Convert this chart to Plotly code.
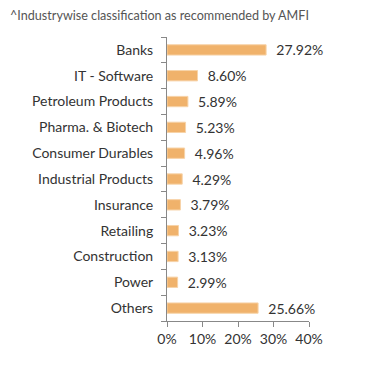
import plotly.graph_objects as go

categories = ["Banks", "IT - Software", "Petroleum Products", "Pharma. & Biotech",
              "Consumer Durables", "Industrial Products", "Insurance", "Retailing",
              "Construction", "Power", "Others"]
values = [27.92, 8.60, 5.89, 5.23, 4.96, 4.29, 3.79, 3.23, 3.13, 2.99, 25.66]
labels = ["27.92%", "8.60%", "5.89%", "5.23%", "4.96%", "4.29%", "3.79%",
          "3.23%", "3.13%", "2.99%", "25.66%"]
x_ticks = [0, 10, 20, 30, 40]
x_ticktext = ["0%", "10%", "20%", "30%", "40%"]
title = "^Industrywise classification as recommended by AMFI"

FONT = "Lato, 'Open Sans', sans-serif"
OFF = 8  # browser default body margin

fig = go.Figure(go.Bar(
    x=values, y=categories, orientation="h",
    marker=dict(color="#F0B26B", line=dict(color="#F7D3A8", width=1)),
    text=["  " + l for l in labels], textposition="outside",
    constraintext="none",
    textfont=dict(family=FONT, size=14, color="#333333"),
    cliponaxis=False, width=0.4,
))

fig.update_layout(
    width=391 - OFF, height=373 - OFF,
    margin=dict(l=167 - OFF, r=82, t=37 - OFF, b=52, autoexpand=False),
    paper_bgcolor="white", plot_bgcolor="white",
    showlegend=False,
    font=dict(family=FONT, size=14, color="#333333"),
    annotations=[dict(text=title, xref="paper", yref="paper", x=-159/142, y=1 + 21/284,
                      xanchor="left", yanchor="middle", showarrow=False,
                      font=dict(family=FONT, size=12.6, color="#555555"))],
)
fig.update_xaxes(
    range=[0, 40], tickvals=x_ticks, ticktext=x_ticktext,
    showgrid=False, zeroline=False, showline=True, linecolor="#888888", linewidth=1,
    ticks="outside", ticklen=5, tickcolor="#888888",
    tickfont=dict(family=FONT, size=14, color="#333333"),
)
fig.update_yaxes(
    categoryorder="array", categoryarray=categories[::-1],
    showgrid=False, zeroline=False, showline=True, linecolor="#888888", linewidth=1,
    ticks="outside", ticklen=5, tickcolor="#888888", tickson="boundaries",
    ticklabelstandoff=10,
    tickfont=dict(family=FONT, size=14, color="#333333"),
)

fig.write_html("out.html")
